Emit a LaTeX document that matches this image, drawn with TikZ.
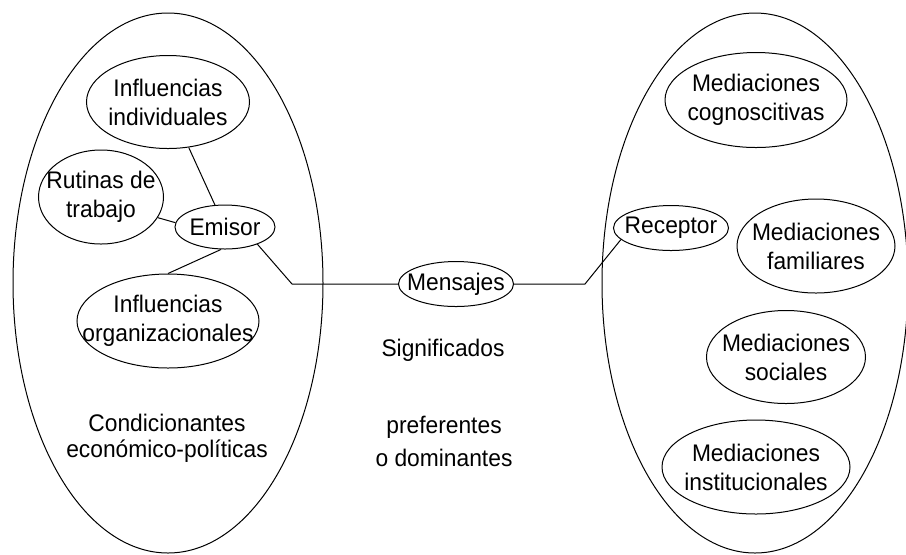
\documentclass[tikz,border=0pt]{standalone}
\usepackage{fontspec}
\setmainfont{Liberation Sans}[FakeStretch=0.95]
\usetikzlibrary{shapes.geometric}
\tikzset{
	bubble/.style args={#1 by #2}{draw, ellipse, inner sep=0pt, align=center,
		minimum width=#1, minimum height=#2},
	lbl/.style={align=center, inner sep=0pt}
}
\newcommand{\zw}[1]{\makebox[0pt]{#1}}

\begin{document}
\begin{tikzpicture}[x=0.5pt, y=-0.5pt, line width=0.5pt,
		font=\fontsize{12}{14.5}\selectfont]
	\useasboundingbox (0,0) rectangle (906,554);
	% big ellipses
	\node[bubble=155pt by 270pt] (emisorside) at (168,283) {};
	\node[bubble=153pt by 270pt] (receptorside) at (755,283) {};
	
	% left side
	\node[bubble=81.5pt by 46.5pt] (indiv) at (168,102) {\zw{Influencias}\\\zw{individuales}};
	\node[bubble=62.5pt by 47pt] (rutinas) at (101,197) {\zw{Rutinas de}\\\zw{trabajo}};
	\node[bubble=50pt by 22pt] (emisor) at (225,227) {\zw{Emisor}};
	\node[bubble=91pt by 47pt] (org) at (168,321) {\zw{Influencias}\\\zw{organizacionales}};
	\node[lbl] (cond) at (167,438) {Condicionantes\\[-1.5pt]económico-políticas};
	
	% middle
	\node[bubble=57.5pt by 22.5pt] (mensajes) at (456,284) {\zw{Mensajes}};
	\node[lbl] (signif) at (443,350) {Significados};
	\node[lbl] (pref) at (444,441) {preferentes\\[2pt]o dominantes};
	
	% right side
	\node[bubble=91pt by 47.5pt] (cogn) at (756,100) {\zw{Mediaciones}\\\zw{cognoscitivas}};
	\node[bubble=57.5pt by 22.5pt] (receptor) at (671,228) {\zw{Receptor}};
	\node[bubble=79pt by 47pt] (famil) at (816,246) {\zw{Mediaciones}\\\zw{familiares}};
	\node[bubble=79.5pt by 46.5pt] (social) at (786,357) {\zw{Mediaciones}\\\zw{sociales}};
	\node[bubble=94pt by 47pt] (instit) at (756,467) {\zw{Mediaciones}\\\zw{institucionales}};
	
	\coordinate (bendL) at (292,284);
	\coordinate (bendR) at (585,284);
	
	\draw (indiv) -- (emisor);
	\draw (rutinas.-20) -- (emisor.175);
	\draw (emisor.-100) -- (org.north);
	\draw (emisor.-28) -- (bendL) -- (mensajes.west);
	\draw (mensajes.east) -- (bendR) -- (receptor.193);
\end{tikzpicture}
\end{document}
